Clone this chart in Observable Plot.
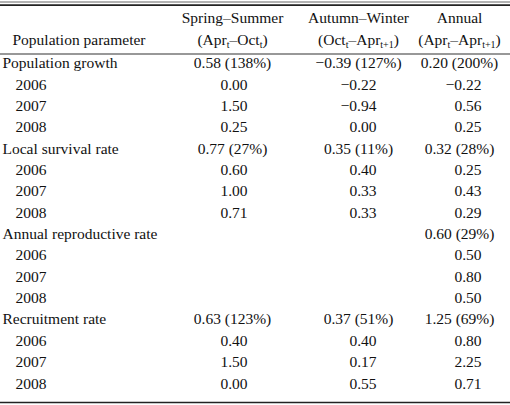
<!DOCTYPE html>
<html>
<head>
<meta charset="utf-8">
<script src="https://cdn.jsdelivr.net/npm/d3@7"></script>
<script src="https://cdn.jsdelivr.net/npm/@observablehq/plot@0.6"></script>
<style>
  html, body { margin: 0; padding: 0; background: #fff; }
  #chart { width: 510px; height: 405px; overflow: hidden; }
</style>
</head>
<body>
<div id="chart"></div>
<script>
// ---- data ----
const headerLabel = "Population parameter";
const seasons = ["Spring–Summer", "Autumn–Winter", "Annual"];
const periods = ["(Apr_{t}–Oct_{t})", "(Oct_{t}–Apr_{t+1})", "(Apr_{t}–Apr_{t+1})"];
const params = ["Population growth", "Local survival rate", "Annual reproductive rate", "Recruitment rate"];
const years = ["2006", "2007", "2008"];

// overall mean and CV (%) per parameter
const springMean = [0.58, 0.77, null, 0.63];
const springCV   = [138, 27, null, 123];
const autumnMean = [-0.39, 0.35, null, 0.37];
const autumnCV   = [127, 11, null, 51];
const annualMean = [0.20, 0.32, 0.60, 1.25];
const annualCV   = [200, 28, 29, 69];

// yearly values per parameter (2006, 2007, 2008)
const springYear = [[0.00, 1.50, 0.25], [0.60, 1.00, 0.71], [null, null, null], [0.40, 1.50, 0.00]];
const autumnYear = [[-0.22, -0.94, 0.00], [0.40, 0.33, 0.33], [null, null, null], [0.40, 0.17, 0.55]];
const annualYear = [[-0.22, 0.56, 0.25], [0.25, 0.43, 0.29], [0.50, 0.80, 0.50], [0.80, 2.25, 0.71]];

// ---- build table cells ----
const fmt = v => (v < 0 ? "−" : "") + Math.abs(v).toFixed(2);
const labelCells = [];   // left column
const meanCells = [];    // summary values (centred)
const yearCells = [];    // yearly values (right-aligned)
const means = [springMean, autumnMean, annualMean];
const cvs = [springCV, autumnCV, annualCV];
const yearly = [springYear, autumnYear, annualYear];

params.forEach((p, i) => {
  const r = i * 4;
  labelCells.push({row: r, col: 0, text: p, indent: false});
  for (let c = 0; c < 3; c++) {
    if (means[c][i] != null) meanCells.push({row: r, col: c + 1, text: `${fmt(means[c][i])} (${cvs[c][i]}%)`});
  }
  years.forEach((y, j) => {
    labelCells.push({row: r + j + 1, col: 0, text: y, indent: true});
    for (let c = 0; c < 3; c++) {
      const v = yearly[c][i][j];
      if (v != null) yearCells.push({row: r + j + 1, col: c + 1.5, text: fmt(v)});
    }
  });
});

const headerCells = [
  ...seasons.map((s, c) => ({row: "h1", col: c + 1, text: s})),
  ...periods.map((s, c) => ({row: "h2", col: c + 1, text: s}))
];

// ---- layout (scale configuration) ----
const rowStep = 21.36, firstRow = 62.7;
const yOf = {h1: -2.13, h2: -1.10};
const rules = [
  {y: -2.865, w: 1, c: "#666"},
  {y: -2.72, w: 1.8, c: "#222"},
  {y: -0.43, w: 1.2, c: "#333"},
  {y: 15.885, w: 1.6, c: "#222"}
];

const ink = "#111";
const fs = 15.5;
const chart = Plot.plot({
  width: 510,
  height: 405,
  margin: 0,
  style: {fontFamily: "'Liberation Serif', 'Times New Roman', serif", fontSize: fs + "px", background: "#fff", color: ink},
  x: {type: "linear", domain: [0, 1, 1.5, 2, 2.5, 3, 3.5], range: [2, 232, 247, 358, 376, 459, 481], axis: null},
  y: {type: "linear", domain: [-firstRow / rowStep, (405 - firstRow) / rowStep], range: [0, 405], axis: null},
  marks: [
    Plot.ruleY(rules, {y: "y", stroke: "c", strokeWidth: "w"}),
    Plot.text([{col: 0, row: yOf.h2, text: headerLabel}], {x: "col", y: "row", text: "text", textAnchor: "start", dx: 10, fill: ink, fontSize: fs}),
    Plot.text(headerCells, {x: "col", y: d => yOf[d.row], text: "text", textAnchor: "middle", fill: ink, fontSize: fs}),
    Plot.text(labelCells.filter(d => !d.indent), {x: "col", y: "row", text: "text", textAnchor: "start", fill: ink, fontSize: fs}),
    Plot.text(labelCells.filter(d => d.indent), {x: "col", y: "row", text: "text", textAnchor: "start", dx: 13, fill: ink, fontSize: fs}),
    Plot.text(meanCells, {x: "col", y: "row", text: "text", textAnchor: "middle", fill: ink, fontSize: fs}),
    Plot.text(yearCells, {x: "col", y: "row", text: "text", textAnchor: "end", fill: ink, fontSize: fs})
  ]
});

// subscripts: turn "_{...}" markup into real subscript tspans
chart.querySelectorAll("text").forEach(t => {
  const s = t.textContent;
  if (!s.includes("_{")) return;
  while (t.firstChild) t.removeChild(t.firstChild);
  const parts = s.split(/(_\{[^}]*\})/).filter(x => x.length);
  let lowered = false;
  parts.forEach(part => {
    const ts = document.createElementNS("http://www.w3.org/2000/svg", "tspan");
    if (part.startsWith("_{")) {
      ts.textContent = part.slice(2, -1);
      ts.setAttribute("font-size", "10");
      if (!lowered) { ts.setAttribute("dy", "3.5"); lowered = true; }
    } else {
      ts.textContent = part;
      if (lowered) { ts.setAttribute("dy", "-3.5"); lowered = false; }
    }
    t.appendChild(ts);
  });
});

document.getElementById("chart").appendChild(chart);
</script>
</body>
</html>
